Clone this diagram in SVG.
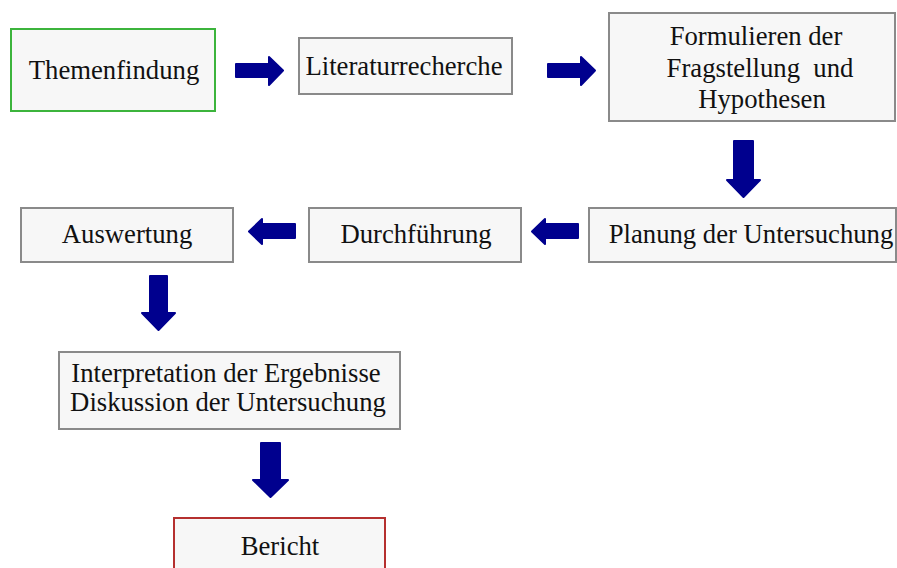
<svg xmlns="http://www.w3.org/2000/svg" width="897" height="568" viewBox="0 0 897 568">
<style>
.box{fill:#f7f7f7;stroke:#8a8a8a;stroke-width:2}
.green{stroke:#3cb43c}
.red{stroke:#b5302f}
text{font-family:"Liberation Serif","Times New Roman",serif;font-size:26.7px;fill:#111;text-anchor:middle}
.arr{fill:#00008e;stroke:#00008e;stroke-width:2;stroke-linejoin:round}
</style>
<rect width="897" height="568" fill="#fff"/>
<g id="connectors">
<path class="arr" d="M236,64 H269 V57 L283,70.5 L269,85 V77 H236 Z"/>
<path class="arr" d="M548,64 H581 V57 L595,70.5 L581,85 V77 H548 Z"/>
<path class="arr" d="M734,141 H753 V180 H760 L743.5,197 L727,180 H734 Z"/>
<path class="arr" d="M578,224 H545 V219 L532,231.5 L545,244 V238 H578 Z"/>
<path class="arr" d="M295,224 H262 V219 L249,231.5 L262,244 V238 H295 Z"/>
<path class="arr" d="M150,276 H167 V313 H175 L158.5,330 L142,313 H150 Z"/>
<path class="arr" d="M261,443 H280 V480 H288 L270.5,497 L253,480 H261 Z"/>
</g>
<g id="themenfindung"><rect class="box green" x="11" y="29" width="204" height="82"/><text x="114" y="79">Themenfindung</text></g>
<g id="literaturrecherche"><rect class="box" x="299" y="38" width="213" height="56"/><text x="404" y="75">Literaturrecherche</text></g>
<g id="formulieren"><rect class="box" x="609" y="13" width="286" height="108"/><text x="756" y="45">Formulieren der</text><text x="760" y="77" xml:space="preserve">Fragstellung  und</text><text x="762" y="108">Hypothesen</text></g>
<g id="planung"><rect class="box" x="589" y="208" width="307" height="54"/><text x="751" y="243">Planung der Untersuchung</text></g>
<g id="durchfuehrung"><rect class="box" x="309" y="208" width="212" height="54"/><text x="416" y="243">Durchführung</text></g>
<g id="auswertung"><rect class="box" x="21" y="208" width="212" height="54"/><text x="127" y="243">Auswertung</text></g>
<g id="interpretation"><rect class="box" x="59" y="352" width="341" height="77"/><text x="226" y="382">Interpretation der Ergebnisse</text><text x="228" y="411">Diskussion der Untersuchung</text></g>
<g id="bericht"><rect class="box red" x="174" y="518" width="211" height="60"/><text x="280" y="555">Bericht</text></g>
</svg>
